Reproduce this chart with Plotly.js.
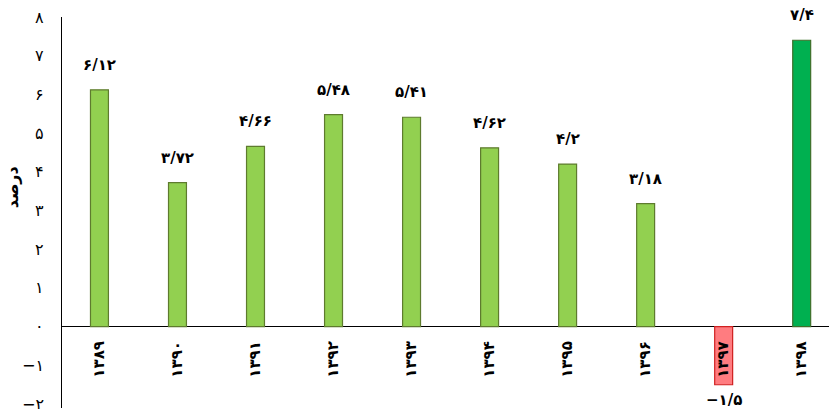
<!DOCTYPE html>
<html><head><meta charset="utf-8">
<script src="https://cdn.plot.ly/plotly-3.0.1.min.js"></script>
<style>html,body{margin:0;padding:0;background:#fff}#c{width:829px;height:409px}</style>
</head><body><div id="c"></div>
<script>
const years = ['1389','1390','1391','1392','1393','1394','1395','1396','1397','1398'];
const values = [6.12, 3.72, 4.66, 5.48, 5.41, 4.62, 4.2, 3.18, -1.5, 7.4];
const yTickVals = [-2,-1,0,1,2,3,4,5,6,7,8];
const yTitle = 'درصد';

const fa = s => String(s).replace(/[0-9]/g, d => '۰۱۲۳۴۵۶۷۸۹'[d]).replace('.', '/').replace('-', '−');
const fills = values.map((v,i) => v < 0 ? '#FF7C80' : (i === values.length-1 ? '#00B050' : '#92D050'));
const lines = values.map((v,i) => v < 0 ? '#D02020' : (i === values.length-1 ? '#3F6F2A' : '#5E7B2E'));
const font = 'DejaVu Sans, sans-serif';

const trace = {
  type: 'bar', x: years, y: values, width: 0.23,
  marker: {color: fills, line: {color: lines, width: 1.2}},
  hoverinfo: 'none'
};
const ann = [];
years.forEach((y,i) => {
  const v = values[i];
  ann.push({xref: 'x', yref: 'y', x: i, y: v, text: '<b>'+fa(v)+'</b>', showarrow: false,
    yanchor: v >= 0 ? 'bottom' : 'top', yshift: v >= 0 ? 14 : -4,
    font: {family: font, size: 15, color: '#000'}});
  ann.push({xref: 'x', yref: 'y', x: i, y: 0, text: '<b>'+fa(y)+'</b>', showarrow: false, textangle: -90,
    yanchor: 'top', yshift: -12, font: {family: font, size: 15, color: '#000'}});
});
yTickVals.forEach(t => {
  ann.push({xref: 'paper', yref: 'y', x: 0, xshift: -16, y: t, text: fa(t), showarrow: false,
    xanchor: 'right', yanchor: 'middle', font: {family: font, size: 16, color: '#000'}});
});
ann.push({xref: 'paper', yref: 'y', x: 0, xshift: -50, y: 3.6, text: '<b>'+yTitle+'</b>', textangle: -90,
  showarrow: false, xanchor: 'center', font: {family: font, size: 16, color: '#000'}});
const layout = {
  width: 829, height: 409,
  margin: {l: 62, r: 0, t: 17, b: 1},
  paper_bgcolor: '#fff', plot_bgcolor: '#fff',
  showlegend: false,
  xaxis: {type: 'category', range: [-0.48, 9.35], showticklabels: false, showgrid: false,
    zeroline: false, showline: false, ticks: ''},
  yaxis: {range: [-2.1, 8.0], tickvals: yTickVals, showticklabels: false, showgrid: false,
    zeroline: true, zerolinecolor: '#000', zerolinewidth: 1.5,
    showline: true, linecolor: '#000', linewidth: 1.5, ticks: ''},
  annotations: ann
};
Plotly.newPlot('c', [trace], layout, {staticPlot: true, displayModeBar: false});
</script></body></html>
